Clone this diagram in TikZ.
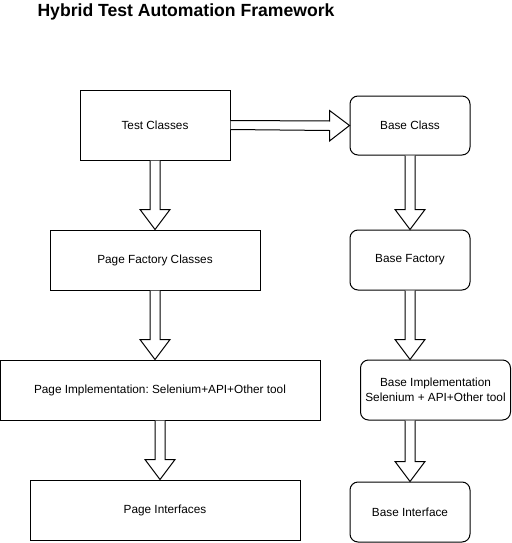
\documentclass[tikz,border=0pt]{standalone}
\usepackage{fontspec}
\setmainfont{Liberation Sans}
\usetikzlibrary{calc}
\tikzset{
  box/.style={draw=black, line width=1pt, fill=white, minimum width=#1, inner sep=0pt,
    font=\fontsize{11.8}{14.5}\selectfont, align=center},
  rbox/.style={box=#1, rounded corners=8pt},
  blk/.style={draw=black, line width=1pt, line join=miter, fill=white},
}
% Hollow block arrow pointing down from #1 to #2, placed on the vertical through #3
\newcommand\downblock[3]{%
  \draw[blk] ($(#1.south -| #3)+(-5,0)$) -- ($(#2.north -| #3)+(-5,-20)$) -- ++(-10,0)
    -- (#2.north -| #3) -- ++(15,-20) -- ++(-10,0) -- ($(#1.south -| #3)+(5,0)$);}
\begin{document}
\begin{tikzpicture}[x=1pt, y=-1pt]
  \useasboundingbox (0,0) rectangle (511,543);
  \fill[white] (0,0) rectangle (511,543);

  \node[anchor=base west, font=\bfseries\fontsize{17.6}{20}\selectfont] (title) at (34,16.5)
    {Hybrid Test Automation Framework};

  % left column
  \node[box=150pt, minimum height=70pt] (test) at (155,125) {Test Classes};
  \node[box=210pt, minimum height=60pt] (pfac) at (155,260) {Page Factory Classes};
  \node[box=320pt, minimum height=60pt] (pimp) at (160,390) {Page Implementation:\ Selenium+API+Other tool};
  \node[box=270pt, minimum height=60pt] (pint) at (165,510) {Page Interfaces};

  % right column
  \node[rbox=120pt, minimum height=59pt] (bcls) at (410,125.5) {Base Class};
  \node[rbox=120pt, minimum height=60pt] (bfac) at (410,260) {Base Factory};
  \node[rbox=150pt, minimum height=60pt] (bimp) at (435.5,390) {Base Implementation\\Selenium + API+Other tool};
  \node[rbox=120pt, minimum height=60pt] (bint) at (410,512) {Base Interface};

  % horizontal block arrow
  \draw[blk] ($(test.east)+(0,-4.5)$) -- ($(bcls.west)+(-20,-4.5)$) -- ++(0,-10.5)
    -- (bcls.west) -- ++(-20,15.5) -- ++(0,-10.5) -- ($(test.east)+(0,4.5)$);

  % vertical block arrows
  \downblock{test}{pfac}{test}
  \downblock{pfac}{pimp}{pfac}
  \downblock{pimp}{pint}{pimp}
  \downblock{bcls}{bfac}{bcls}
  \downblock{bfac}{bimp}{bfac}
  \downblock{bimp}{bint}{bint}
\end{tikzpicture}
\end{document}
